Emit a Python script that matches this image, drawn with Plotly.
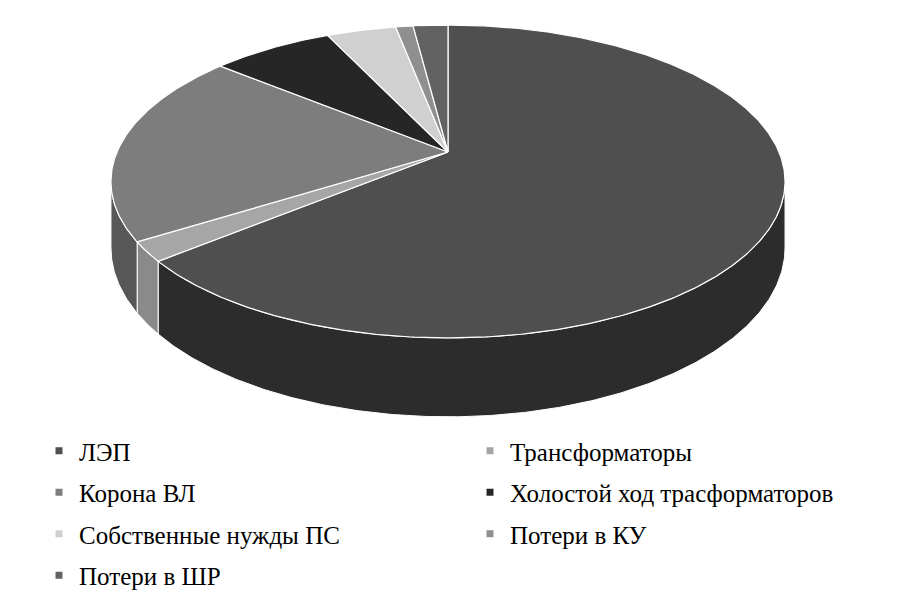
import numpy as np
import plotly.graph_objects as go

labels = ["ЛЭП", "Трансформаторы", "Корона ВЛ", "Холостой ход трасформаторов",
          "Собственные нужды ПС", "Потери в КУ", "Потери в ШР"]
values = [64, 2, 20, 7, 4, 1, 2]
top_colors = ["#4f4f4f", "#a6a6a6", "#7d7d7d", "#262626", "#d0d0d0", "#8f8f8f", "#626262"]
side_colors = ["#2c2c2c", "#8a8a8a", "#575757", "#151515", "#b0b0b0", "#707070", "#454545"]
legend_col = [1, 2, 1, 2, 1, 2, 1]

# page offset (default body margin) and figure size
OFF = 8
W, H = 898 - OFF, 615 - OFF

# projection (style constants, page-pixel space)
CX, CY = 448.0, 152.0
A, B, K, D = 331.0, 150.9, 0.1885, 64.0
VIS_LO = np.degrees(np.arccos(-K))
VIS_HI = 360 - VIS_LO


def proj(theta_deg, bottom=False):
    t = np.radians(theta_deg)
    u, v = np.sin(t), np.cos(t)
    w = 1 + K * v
    x = CX + A * u / w
    y = CY - B * v / w
    if bottom:
        y = y + D / w
    return x, y


fig = go.Figure()
total = sum(values)
cum = np.concatenate([[0], np.cumsum(values)]) / total * 360.0

# side walls
for i, lab in enumerate(labels):
    a1, a2 = max(cum[i], VIS_LO), min(cum[i + 1], VIS_HI)
    if a2 <= a1:
        continue
    th = np.linspace(a1, a2, max(int((a2 - a1) * 2), 3))
    xt, yt = proj(th)
    xb, yb = proj(th[::-1], bottom=True)
    fig.add_trace(go.Scatter(x=np.concatenate([xt, xb, xt[:1]]), y=np.concatenate([yt, yb, yt[:1]]),
                             mode="lines", fill="toself", fillcolor=side_colors[i],
                             line=dict(color="white", width=1), hoverinfo="skip", showlegend=False))

# top faces
for i, lab in enumerate(labels):
    th = np.linspace(cum[i], cum[i + 1], max(int((cum[i + 1] - cum[i]) * 2), 3))
    xt, yt = proj(th)
    fig.add_trace(go.Scatter(x=np.concatenate([[CX], xt, [CX]]), y=np.concatenate([[CY], yt, [CY]]),
                             mode="lines", fill="toself", fillcolor=top_colors[i],
                             line=dict(color="white", width=1.2), hoverinfo="skip", showlegend=False,
                             name=lab))

# legend entries
for i, lab in enumerate(labels):
    fig.add_trace(go.Scatter(x=[None], y=[None], mode="markers", name=lab,
                             marker=dict(symbol="square", size=7, color=top_colors[i]),
                             legend="legend" if legend_col[i] == 1 else "legend2",
                             legendgroup=lab, showlegend=True))

legend_common = dict(orientation="v",
                     font=dict(family="'Liberation Serif', 'Times New Roman', serif", size=25, color="#000000"),
                     bgcolor="rgba(0,0,0,0)", tracegroupgap=6, yanchor="top", xanchor="left",
                     itemclick=False, itemdoubleclick=False)


def px_x(x):
    return (x - OFF) / W


def px_y(y):
    return 1 - (y - OFF) / H


fig.update_layout(
    width=W, height=H,
    margin=dict(l=0, r=0, t=0, b=0),
    paper_bgcolor="white", plot_bgcolor="white",
    xaxis=dict(range=[OFF, 898], visible=False, fixedrange=True),
    yaxis=dict(range=[615, OFF], visible=False, fixedrange=True),
    legend=dict(x=px_x(79 - 40), y=px_y(428), **legend_common),
    legend2=dict(x=px_x(510 - 40), y=px_y(428), **legend_common),
    showlegend=True,
)

fig.write_html("out.html")
